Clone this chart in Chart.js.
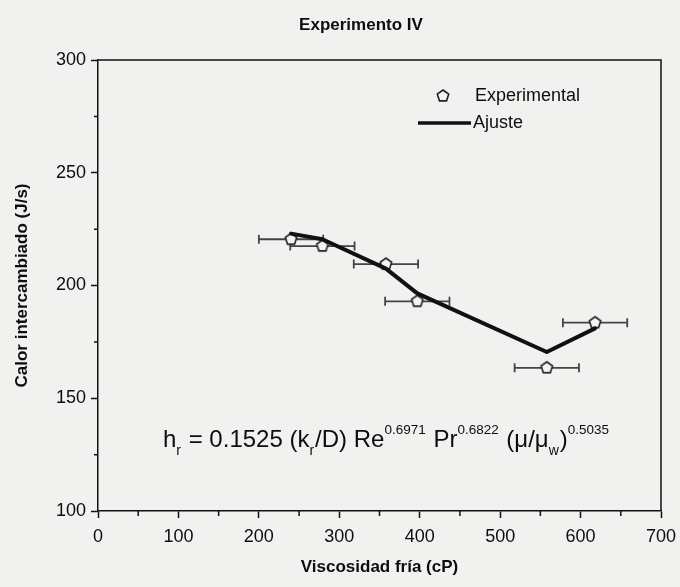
<!DOCTYPE html>
<html>
<head>
<meta charset="utf-8">
<title>Experimento IV</title>
<script src="https://cdn.jsdelivr.net/npm/chart.js@4.4.1/dist/chart.umd.min.js"></script>
<style>
    body { margin: 0; background: #f1f1ef; }
    #grafico { display: block; }
</style>
</head>
<body>
<canvas id="grafico" width="680" height="587"></canvas>
<script>
// Datos
const viscosidad = [240, 279, 358, 397, 558, 618];
const calor = [220.5, 217.5, 209.5, 193, 163.5, 183.5];
const errorViscosidad = [40, 40, 40, 40, 40, 40];

const ajusteViscosidad = [240, 279, 358, 397, 558, 618];
const ajusteCalor = [223, 220.5, 207.5, 196.5, 170.5, 181];

const ticksX = [0, 100, 200, 300, 400, 500, 600, 700];
const ticksY = [100, 150, 200, 250, 300];
const menoresX = [50, 150, 250, 350, 450, 550, 650];
const menoresY = [125, 175, 225, 275];

const FUENTE = '"Liberation Sans", Arial, sans-serif';
const TINTA = '#0d0d0d';

// Marcador pentagonal (Chart.js no trae uno)
function crearPentagono(r) {
    const c = document.createElement('canvas');
    const lado = Math.ceil(r * 2 + 4);
    c.width = lado;
    c.height = lado;
    const g = c.getContext('2d');
    g.beginPath();
    for (let i = 0; i < 5; i++) {
        const a = -Math.PI / 2 + i * 2 * Math.PI / 5;
        const px = lado / 2 + r * Math.cos(a);
        const py = lado / 2 + r * Math.sin(a);
        if (i === 0) g.moveTo(px, py); else g.lineTo(px, py);
    }
    g.closePath();
    g.fillStyle = '#f4f4f2';
    g.fill();
    g.lineWidth = 1.6;
    g.strokeStyle = '#222';
    g.stroke();
    return c;
}

const pentagono = crearPentagono(6);

function dibujarEcuacion(ctx, x, y) {
    const partes = [
        { t: 'h', s: 'n' }, { t: 'r', s: 'sub' },
        { t: ' = 0.1525 (k', s: 'n' }, { t: 'r', s: 'sub' },
        { t: '/D) Re', s: 'n' }, { t: '0.6971', s: 'sup' },
        { t: ' Pr', s: 'n' }, { t: '0.6822', s: 'sup' },
        { t: ' (μ/μ', s: 'n' }, { t: 'w', s: 'sub' },
        { t: ')', s: 'n' }, { t: '0.5035', s: 'sup' }
    ];
    ctx.textAlign = 'left';
    ctx.textBaseline = 'alphabetic';
    partes.forEach(p => {
        let dy = 0;
        if (p.s === 'n') ctx.font = '24px ' + FUENTE;
        if (p.s === 'sup') { ctx.font = '13.5px ' + FUENTE; dy = -13; }
        if (p.s === 'sub') { ctx.font = '14px ' + FUENTE; dy = 8; }
        ctx.fillText(p.t, x, y + dy);
        x += ctx.measureText(p.t).width + (p.s === 'n' ? 0 : 1);
    });
}

const extrasPlugin = {
    id: 'extras',
    beforeDraw(chart) {
        const ctx = chart.ctx;
        ctx.save();
        ctx.fillStyle = '#f1f1ef';
        ctx.fillRect(0, 0, chart.width, chart.height);
        ctx.restore();
    },
    beforeDatasetsDraw(chart) {
        // Barras de error horizontales
        const ctx = chart.ctx;
        const xs = chart.scales.x;
        const ys = chart.scales.y;
        ctx.save();
        ctx.strokeStyle = '#444';
        ctx.lineWidth = 1.8;
        viscosidad.forEach((v, i) => {
            const x1 = xs.getPixelForValue(v - errorViscosidad[i]);
            const x2 = xs.getPixelForValue(v + errorViscosidad[i]);
            const y = ys.getPixelForValue(calor[i]);
            ctx.beginPath();
            ctx.moveTo(x1, y); ctx.lineTo(x2, y);
            ctx.moveTo(x1, y - 4.5); ctx.lineTo(x1, y + 4.5);
            ctx.moveTo(x2, y - 4.5); ctx.lineTo(x2, y + 4.5);
            ctx.stroke();
        });
        ctx.restore();
    },
    afterDraw(chart) {
        const ctx = chart.ctx;
        const area = chart.chartArea;
        const xs = chart.scales.x;
        const ys = chart.scales.y;
        ctx.save();

        // Marco superior y derecho
        ctx.strokeStyle = '#111';
        ctx.lineWidth = 1.5;
        ctx.beginPath();
        ctx.moveTo(area.left, area.top);
        ctx.lineTo(area.right, area.top);
        ctx.lineTo(area.right, area.bottom);
        ctx.stroke();

        // Marcas menores
        ctx.beginPath();
        menoresX.forEach(v => {
            const px = xs.getPixelForValue(v);
            ctx.moveTo(px, area.bottom);
            ctx.lineTo(px, area.bottom + 5);
        });
        menoresY.forEach(v => {
            const py = ys.getPixelForValue(v);
            ctx.moveTo(area.left, py);
            ctx.lineTo(area.left - 4, py);
        });
        ctx.stroke();

        // Título
        ctx.fillStyle = TINTA;
        ctx.font = 'bold 17px ' + FUENTE;
        ctx.textAlign = 'center';
        ctx.textBaseline = 'alphabetic';
        ctx.fillText('Experimento IV', 361, 30);

        // Leyenda
        ctx.drawImage(pentagono, 443 - pentagono.width / 2, 96 - pentagono.height / 2);
        ctx.font = '18px ' + FUENTE;
        ctx.textAlign = 'left';
        ctx.textBaseline = 'middle';
        ctx.fillText('Experimental', 475, 96);
        ctx.strokeStyle = '#111';
        ctx.lineWidth = 3.5;
        ctx.beginPath();
        ctx.moveTo(418, 123);
        ctx.lineTo(471, 123);
        ctx.stroke();
        ctx.fillText('Ajuste', 473, 123);

        // Ecuación de ajuste
        dibujarEcuacion(ctx, 163, 447);
        ctx.restore();
    }
};

function crearGrafico() {
    const ctx = document.getElementById('grafico');

    new Chart(ctx, {
        type: 'scatter',
        data: {
            datasets: [{
                label: 'Experimental',
                data: viscosidad.map((v, i) => ({ x: v, y: calor[i] })),
                pointStyle: pentagono,
                pointRadius: 6,
                showLine: false,
                order: 2
            }, {
                label: 'Ajuste',
                data: ajusteViscosidad.map((v, i) => ({ x: v, y: ajusteCalor[i] })),
                showLine: true,
                borderColor: '#111',
                borderWidth: 4,
                borderJoinStyle: 'round',
                borderCapStyle: 'round',
                pointRadius: 0,
                order: 1
            }]
        },
        options: {
            responsive: false,
            animation: false,
            layout: {
                padding: { top: 60, right: 19, left: 0, bottom: 0 }
            },
            scales: {
                x: {
                    type: 'linear',
                    min: 0,
                    max: 700,
                    afterBuildTicks: s => { s.ticks = ticksX.map(v => ({ value: v })); },
                    afterFit: s => { s.height = 76; s.paddingLeft = 0; s.paddingRight = 0; },
                    border: { display: true, color: '#111', width: 1.5 },
                    grid: { drawOnChartArea: false, drawTicks: true, tickLength: 7, tickColor: '#111', tickWidth: 1.5 },
                    ticks: { color: TINTA, font: { family: FUENTE, size: 18 }, padding: 8, maxRotation: 0 },
                    title: {
                        display: true,
                        text: 'Viscosidad fría (cP)',
                        color: TINTA,
                        font: { family: FUENTE, size: 17, weight: 'bold' },
                        padding: { top: 0, bottom: 9 }
                    }
                },
                y: {
                    type: 'linear',
                    min: 100,
                    max: 300,
                    afterBuildTicks: s => { s.ticks = ticksY.map(v => ({ value: v })); },
                    afterFit: s => { s.width = 98; s.paddingTop = 0; s.paddingBottom = 0; },
                    border: { display: true, color: '#111', width: 1.5 },
                    grid: { drawOnChartArea: false, drawTicks: true, tickLength: 7, tickColor: '#111', tickWidth: 1.5 },
                    ticks: { color: TINTA, font: { family: FUENTE, size: 18 }, padding: 5 },
                    title: {
                        display: true,
                        text: 'Calor intercambiado (J/s)',
                        color: TINTA,
                        font: { family: FUENTE, size: 17, weight: 'bold' },
                        padding: { top: 12, bottom: 0 }
                    }
                }
            },
            plugins: {
                legend: { display: false },
                title: { display: false },
                tooltip: { enabled: false }
            }
        },
        plugins: [extrasPlugin]
    });
}

document.addEventListener('DOMContentLoaded', crearGrafico);
</script>
</body>
</html>
